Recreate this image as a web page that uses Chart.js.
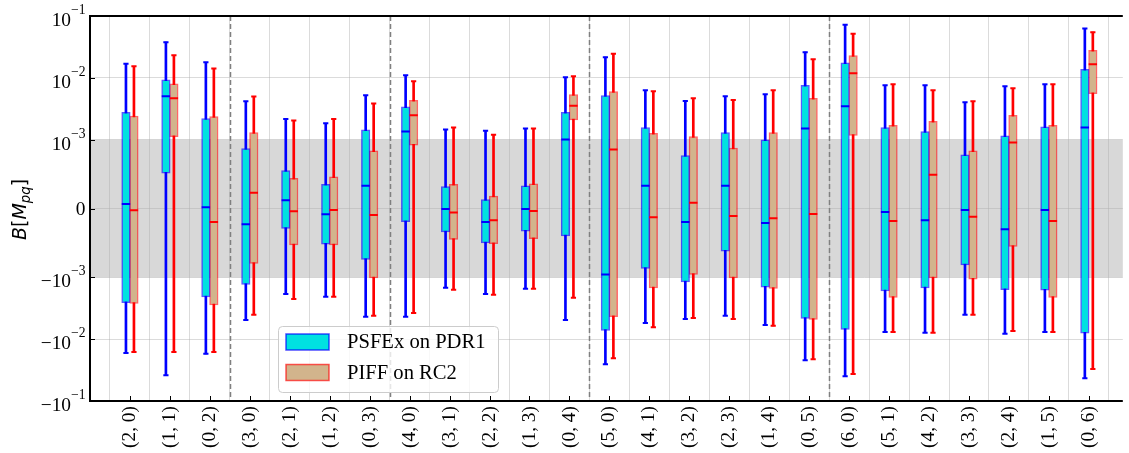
<!DOCTYPE html>
<html>
<head>
<meta charset="utf-8">
<script src="https://cdn.jsdelivr.net/npm/chart.js@4.4.1/dist/chart.umd.min.js"></script>
<style>
  html, body { margin: 0; padding: 0; background: #fff; }
  canvas { display: block; }
</style>
</head>
<body>
<canvas id="boxes" width="1129" height="453"></canvas>
<script>
const categories = ['(2, 0)', '(1, 1)', '(0, 2)', '(3, 0)', '(2, 1)', '(1, 2)', '(0, 3)',
    '(4, 0)', '(3, 1)', '(2, 2)', '(1, 3)', '(0, 4)', '(5, 0)', '(4, 1)', '(3, 2)', '(2, 3)',
    '(1, 4)', '(0, 5)', '(6, 0)', '(5, 1)', '(4, 2)', '(3, 3)', '(2, 4)', '(1, 5)', '(0, 6)'];
const seriesNames = ['PSFEx on PDR1', 'PIFF on RC2'];

// PSFEx on PDR1
const psfexHigh = [0.0169, 0.0378, 0.0179, 0.00418, 0.00217, 0.00184, 0.00522, 0.0110, 0.00147, 0.0014, 0.00152, 0.0102, 0.0216, 0.0063, 0.00424, 0.00503, 0.00542, 0.026, 0.0723, 0.00759, 0.00759, 0.00402, 0.00731, 0.00787, 0.063];
const psfexQ3 = [0.00277, 0.00928, 0.00219, 8.7e-4, 5.5e-4, 3.5e-4, 0.00144, 0.00339, 3.2e-4, 1.3e-4, 3.3e-4, 0.00277, 0.00517, 0.00158, 7.7e-4, 0.00131, 1.0e-3, 0.00759, 0.0175, 0.00158, 0.00135, 7.8e-4, 0.00116, 0.00161, 0.0138];
const psfexMedian = [6.7e-5, 0.00503, 1.9e-5, -2.3e-4, 1.2e-4, -8.3e-5, 3.3e-4, 0.00136, -6e-6, -1.96e-4, -6e-6, 0.00101, -9.6e-4, 3.3e-4, -1.96e-4, 3.3e-4, -2.1e-4, 0.00152, 0.00347, -5e-5, -1.7e-4, -2e-5, -3.0e-4, -2e-5, 0.00158];
const psfexQ1 = [-0.00258, 5.15e-4, -0.00208, -0.0013, -2.9e-4, -5.2e-4, -7.4e-4, -1.9e-4, -3.4e-4, -5.0e-4, -3.3e-4, -4.0e-4, -0.00723, -8.7e-4, -0.00119, -6.2e-4, -0.00144, -0.00462, -0.00696, -0.00167, -0.00149, -8.2e-4, -0.00159, -0.00162, -0.0080];
const psfexLow = [-0.0167, -0.0383, -0.0173, -0.00492, -0.00187, -0.00206, -0.00435, -0.00435, -0.00148, -0.00187, -0.00153, -0.00492, -0.0254, -0.0055, -0.00474, -0.00419, -0.00593, -0.0219, -0.0398, -0.0077, -0.0079, -0.00404, -0.0082, -0.0077, -0.0429];

// PIFF on RC2
const piffHigh = [0.0154, 0.0232, 0.01415, 0.00498, 0.00205, 0.00217, 0.00387, 0.00881, 0.00158, 0.0012, 0.00152, 0.0106, 0.0245, 0.00607, 0.00467, 0.0044, 0.0063, 0.020, 0.0516, 0.00787, 0.0063, 0.00418, 0.00678, 0.00787, 0.0548];
const piffQ3 = [0.00242, 0.0080, 0.00236, 0.00131, 4.4e-4, 4.6e-4, 8.4e-4, 0.00433, 3.5e-4, 1.8e-4, 3.6e-4, 0.00536, 0.0060, 0.00127, 0.00113, 8.8e-4, 0.0013, 0.00467, 0.023, 0.00171, 0.00198, 8.4e-4, 0.00248, 0.00171, 0.028];
const piffMedian = [-2.5e-5, 0.00467, -1.96e-4, 2.28e-4, -3.9e-5, -2e-5, -9.3e-5, 0.00248, -5.8e-5, -1.7e-4, -3.5e-5, 0.00356, 8.6e-4, -1.27e-4, 8.2e-5, -1.1e-4, -1.4e-4, -7.9e-5, 0.0119, -1.8e-4, 4.9e-4, -1.2e-4, 9.6e-4, -1.8e-4, 0.0166];
const piffQ1 = [-0.00264, 0.00112, -0.00281, -8.0e-4, -5.3e-4, -5.3e-4, -0.00103, 9.2e-4, -4.5e-4, -5.1e-4, -4.4e-4, 0.00209, -0.00435, -0.00149, -9.6e-4, -0.00103, -0.00151, -0.0048, 0.00117, -0.00211, -0.00103, -0.00107, -5.5e-4, -0.00211, 0.00557];
const piffLow = [-0.0161, -0.0161, -0.0161, -0.00404, -0.00225, -0.00206, -0.00419, -0.00379, -0.00159, -0.00191, -0.00153, -0.00214, -0.0203, -0.0064, -0.00457, -0.00474, -0.00609, -0.0211, -0.0365, -0.0077, -0.0079, -0.00404, -0.0074, -0.0077, -0.0303];

const yTickValues = [-0.1, -0.01, -0.001, 0, 0.001, 0.01, 0.1];
const linThresh = 1e-3;

// symlog like matplotlib (base 10, linscale 1)
const LINSCALE = 1 / (1 - 1 / 10);
function symlog(v) {
    const a = Math.abs(v);
    if (a <= linThresh) return v / linThresh * LINSCALE;
    return Math.sign(v) * (LINSCALE + Math.log10(a / linThresh));
}

const serif = '"Liberation Serif", "Times New Roman", serif';
const gridColor = 'rgba(176,176,176,0.45)';

function boxDatasets(label, low, q1, med, q3, high, offset, edge, edgeSoft, fill) {
    const xs = categories.map((_, i) => i + offset);
    return [
        {
            type: 'bar', label,
            data: xs.map((x, i) => ({ x, y: [symlog(q1[i]), symlog(q3[i])] })),
            backgroundColor: fill, borderColor: edgeSoft, borderWidth: 1.5,
            borderSkipped: false, barThickness: 8.5, grouped: false, order: 2
        },
        {
            type: 'bar',
            data: xs.map((x, i) => ({ x, y: [symlog(low[i]), symlog(high[i])] })),
            backgroundColor: edge, borderWidth: 0, barThickness: 2, grouped: false, order: 3
        },
        {
            type: 'scatter',
            data: xs.flatMap((x, i) => [{ x, y: symlog(low[i]) }, { x, y: symlog(high[i]) }]),
            pointStyle: 'line', pointRadius: 2.6, pointBorderWidth: 2, pointBorderColor: edge, order: 1
        },
        {
            type: 'scatter',
            data: xs.map((x, i) => ({ x, y: symlog(med[i]) })),
            pointStyle: 'line', pointRadius: 4.2, pointBorderWidth: 2, pointBorderColor: edge, order: 0
        }
    ];
}

// group separators where the order p+q changes
const orderOf = c => c.match(/\d+/g).map(Number).reduce((a, b) => a + b, 0);

const decor = {
    id: 'decor',
    beforeDraw(chart) {
        const { ctx, chartArea: a, scales: { y } } = chart;
        const top = y.getPixelForValue(symlog(linThresh));
        const bottom = y.getPixelForValue(symlog(-linThresh));
        ctx.save();
        ctx.fillStyle = '#d8d8d8';
        ctx.fillRect(a.left, top, a.right - a.left, bottom - top);
        ctx.restore();
    },
    beforeDatasetsDraw(chart) {
        const { ctx, chartArea: a, scales: { x } } = chart;
        ctx.save();
        ctx.strokeStyle = '#808080';
        ctx.lineWidth = 1.5;
        ctx.setLineDash([5, 3]);
        for (let i = 0; i < categories.length - 1; i++) {
            if (orderOf(categories[i]) === orderOf(categories[i + 1])) continue;
            const px = Math.round(x.getPixelForValue(i + 0.5)) + 0.5;
            ctx.beginPath();
            ctx.moveTo(px, a.top);
            ctx.lineTo(px, a.bottom);
            ctx.stroke();
        }
        ctx.restore();
    },
    afterDraw(chart) {
        const { ctx, chartArea: a, scales: { x, y } } = chart;
        ctx.save();

        // inward ticks
        ctx.strokeStyle = '#000';
        ctx.lineWidth = 1;
        categories.forEach((_, i) => {
            const px = Math.round(x.getPixelForValue(i)) + 0.5;
            ctx.beginPath(); ctx.moveTo(px, a.bottom); ctx.lineTo(px, a.bottom - 5); ctx.stroke();
        });
        yTickValues.forEach(v => {
            const py = Math.round(y.getPixelForValue(symlog(v))) + 0.5;
            ctx.beginPath(); ctx.moveTo(a.left, py); ctx.lineTo(a.left + 5, py); ctx.stroke();
        });

        // spines
        ctx.lineWidth = 2;
        ctx.beginPath();
        ctx.moveTo(a.right, a.top); ctx.lineTo(a.left, a.top);
        ctx.lineTo(a.left, a.bottom); ctx.lineTo(a.right, a.bottom);
        ctx.stroke();

        // y tick labels with exponents
        ctx.fillStyle = '#000';
        ctx.textAlign = 'right';
        ctx.textBaseline = 'alphabetic';
        const right = a.left - 4.5;
        yTickValues.forEach(v => {
            const py = y.getPixelForValue(symlog(v));
            if (v === 0) {
                ctx.font = '19.4px ' + serif;
                ctx.fillText('0', right, py + 6.7);
                return;
            }
            const exp = '\u2212' + Math.round(-Math.log10(Math.abs(v)));
            ctx.font = '13.6px ' + serif;
            const ew = ctx.measureText(exp).width;
            ctx.fillText(exp, right, py - 2);
            ctx.font = '19.4px ' + serif;
            ctx.fillText((v < 0 ? '\u2212' : '') + '10', right - ew, py + 10.2);
        });

        // y axis title B[M_pq]
        const parts = [
            { t: 'B', f: 'italic 19px "DejaVu Sans"', dy: 0 },
            { t: '[', f: '19px "DejaVu Sans"', dy: 0 },
            { t: 'M', f: 'italic 19px "DejaVu Sans"', dy: 0 },
            { t: 'pq', f: 'italic 13.3px "DejaVu Sans"', dy: 4 },
            { t: ']', f: '19px "DejaVu Sans"', dy: 0 }
        ];
        let total = 0;
        parts.forEach(p => { ctx.font = p.f; p.w = ctx.measureText(p.t).width; total += p.w; });
        ctx.translate(26, (a.top + a.bottom) / 2 + 1);
        ctx.rotate(-Math.PI / 2);
        ctx.textAlign = 'left';
        let cx = -total / 2;
        parts.forEach(p => { ctx.font = p.f; ctx.fillText(p.t, cx, p.dy); cx += p.w; });
        ctx.setTransform(1, 0, 0, 1, 0, 0);

        // legend
        const lx = 278, ly = 326, lw = 220, lh = 66;
        ctx.beginPath();
        ctx.roundRect(lx + 0.5, ly + 0.5, lw, lh, 4);
        ctx.fillStyle = 'rgba(255,255,255,0.8)';
        ctx.fill();
        ctx.strokeStyle = '#cccccc';
        ctx.lineWidth = 1;
        ctx.stroke();
        const swatches = [
            { fill: '#00e1e1', edge: 'rgba(0,0,255,0.7)', cy: 342 },
            { fill: '#d2b48c', edge: 'rgba(255,0,0,0.65)', cy: 372.5 }
        ];
        swatches.forEach((s, i) => {
            ctx.fillStyle = s.fill;
            ctx.fillRect(286, s.cy - 8, 43, 16);
            ctx.strokeStyle = s.edge;
            ctx.lineWidth = 1.5;
            ctx.strokeRect(286, s.cy - 8, 43, 16);
            ctx.fillStyle = '#000';
            ctx.font = '20.6px ' + serif;
            ctx.textBaseline = 'middle';
            ctx.fillText(seriesNames[i], 347, s.cy + 1);
        });
        ctx.restore();
    }
};

new Chart(document.getElementById('boxes').getContext('2d'), {
    type: 'bar',
    data: {
        datasets: [
            ...boxDatasets(seriesNames[0], psfexLow, psfexQ1, psfexMedian, psfexQ3, psfexHigh, -0.1,
                '#0000ff', 'rgba(0,0,255,0.65)', '#00e1e1'),
            ...boxDatasets(seriesNames[1], piffLow, piffQ1, piffMedian, piffQ3, piffHigh, 0.1,
                '#ff0000', 'rgba(255,0,0,0.6)', '#d2b48c')
        ]
    },
    options: {
        responsive: false,
        animation: false,
        events: [],
        layout: { padding: { top: 16, left: 0, right: 0, bottom: 0 } },
        plugins: { legend: { display: false }, tooltip: { enabled: false } },
        scales: {
            x: {
                type: 'linear', min: -1, max: 24.85, offset: false,
                afterBuildTicks: s => { s.ticks = categories.map((_, i) => ({ value: i })); },
                afterFit: s => { s.height = 52; },
                grid: { color: gridColor, lineWidth: 1, drawTicks: false },
                border: { display: false },
                ticks: {
                    autoSkip: false, minRotation: 90, maxRotation: 90, padding: 5,
                    color: '#000', font: { family: serif, size: 19.4 },
                    callback: v => categories[v]
                }
            },
            y: {
                type: 'linear', min: symlog(-0.1), max: symlog(0.1),
                afterBuildTicks: s => { s.ticks = yTickValues.map(v => ({ value: symlog(v) })); },
                afterFit: s => { s.width = 90; },
                grid: { color: gridColor, lineWidth: 1, drawTicks: false },
                border: { display: false },
                ticks: { display: false }
            }
        }
    },
    plugins: [decor]
});
</script>
</body>
</html>
